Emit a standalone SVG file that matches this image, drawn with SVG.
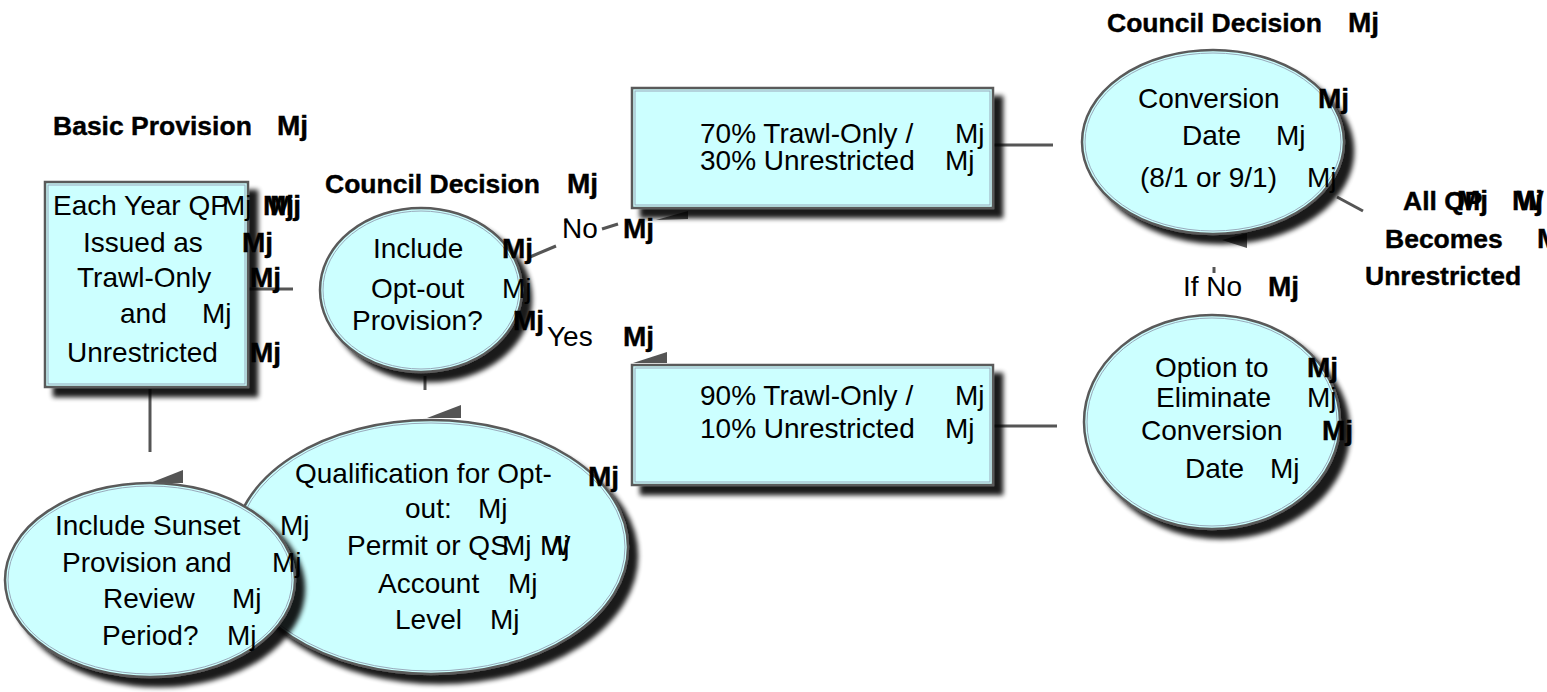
<svg xmlns="http://www.w3.org/2000/svg" width="1547" height="692" viewBox="0 0 1547 692">
<defs>
<filter id="sh" x="-15%" y="-15%" width="140%" height="140%">
<feGaussianBlur in="SourceAlpha" stdDeviation="2.5" result="b"/>
<feOffset in="b" dx="9" dy="9" result="o"/>
<feComponentTransfer in="o" result="s"><feFuncA type="linear" slope="0.9"/></feComponentTransfer>
<feMerge><feMergeNode in="s"/><feMergeNode in="SourceGraphic"/></feMerge>
</filter>
<style>
.shape{fill:#ccffff;stroke:#5a5a5a;stroke-width:2.5;filter:url(#sh)}
.inner{fill:none;stroke:#9ab;stroke-width:1}
text{font-family:"Liberation Sans",Arial,Helvetica,sans-serif;fill:#000}
.t{font-size:28px}
.b{font-size:26.5px;font-weight:bold;stroke:#000;stroke-width:0.4}
.bm{font-size:28px;font-weight:bold;stroke:#000;stroke-width:0.4}
.ln{stroke:#555;stroke-width:3;fill:none}
.ah{fill:#555}
</style>
</defs>
<rect width="1547" height="692" fill="#fff"/>

<g id="connectors">
<line class="ln" x1="248" y1="289" x2="293" y2="289"/>
<line class="ln" x1="150" y1="389" x2="150" y2="452"/>
<polygon class="ah" points="150,483 183,470 183,483"/>
<line class="ln" x1="425" y1="376" x2="425" y2="390"/>
<polygon class="ah" points="427,418 461,405 461,418"/>
<line class="ln" x1="530" y1="257" x2="556" y2="246"/>
<line class="ln" x1="602" y1="229" x2="618" y2="224"/>
<polygon class="ah" points="656,220 688,211 688,219"/>
<line class="ln" x1="566" y1="218" x2="566" y2="223" stroke-width="2"/>
<polygon class="ah" points="633,363 667,352 667,363"/>
<line class="ln" x1="993" y1="145" x2="1053" y2="145"/>
<line class="ln" x1="993" y1="426" x2="1057" y2="426"/>
<line class="ln" x1="1337" y1="197" x2="1363" y2="211"/>
<polygon class="ah" points="1247,248 1247,233 1222,240"/>
<line class="ln" x1="1214" y1="267" x2="1214" y2="273" stroke-width="2"/>
</g>

<g id="title-basic">
<text class="b" x="53" y="135">Basic Provision</text>
<text class="bm" x="277" y="135">Mj</text>
</g>

<g id="node-basic">
<rect class="shape" x="45" y="182" width="203" height="205"/>
<rect class="inner" x="48" y="185" width="197" height="199"/>
<text class="t" x="53" y="215">Each Year QP</text>
<text class="t" x="222" y="215">Mj</text>
<text class="bm" x="263" y="215">Mj</text>
<text class="bm" x="270" y="215">Mj</text>
<text class="t" x="83" y="252">Issued as</text>
<text class="bm" x="242" y="252">Mj</text>
<text class="t" x="77" y="287">Trawl-Only</text>
<text class="bm" x="250" y="287">Mj</text>
<text class="t" x="120" y="323">and</text>
<text class="t" x="202" y="323">Mj</text>
<text class="t" x="67" y="362">Unrestricted</text>
<text class="bm" x="250" y="362">Mj</text>
</g>

<g id="title-council-1">
<text class="b" x="325" y="193">Council Decision</text>
<text class="bm" x="567" y="193">Mj</text>
</g>

<g id="node-optout">
<ellipse class="shape" cx="421" cy="290" rx="101" ry="82"/>
<ellipse class="inner" cx="421" cy="290" rx="98" ry="79"/>
<text class="t" x="373" y="258">Include</text>
<text class="bm" x="502" y="258">Mj</text>
<text class="t" x="371" y="298">Opt-out</text>
<text class="t" x="502" y="298">Mj</text>
<text class="t" x="352" y="330">Provision?</text>
<text class="bm" x="513" y="330">Mj</text>
</g>

<g id="label-no">
<text class="t" x="562" y="238">No</text>
<text class="bm" x="623" y="238">Mj</text>
</g>

<g id="label-yes">
<text class="t" x="547" y="346">Yes</text>
<text class="bm" x="623" y="346">Mj</text>
</g>

<g id="node-70">
<rect class="shape" x="632" y="88" width="361" height="120"/>
<rect class="inner" x="635" y="91" width="355" height="114"/>
<text class="t" x="700" y="143">70% Trawl-Only /</text>
<text class="t" x="955" y="143">Mj</text>
<text class="t" x="700" y="170">30% Unrestricted</text>
<text class="t" x="945" y="170">Mj</text>
</g>

<g id="node-90">
<rect class="shape" x="632" y="365" width="361" height="120"/>
<rect class="inner" x="635" y="368" width="355" height="114"/>
<text class="t" x="700" y="405">90% Trawl-Only /</text>
<text class="t" x="955" y="405">Mj</text>
<text class="t" x="700" y="438">10% Unrestricted</text>
<text class="t" x="945" y="438">Mj</text>
</g>

<g id="title-council-2">
<text class="b" x="1107" y="32">Council Decision</text>
<text class="bm" x="1348" y="32">Mj</text>
</g>

<g id="node-conversion">
<ellipse class="shape" cx="1213" cy="142" rx="131" ry="92"/>
<ellipse class="inner" cx="1213" cy="142" rx="128" ry="89"/>
<text class="t" x="1138" y="108">Conversion</text>
<text class="bm" x="1318" y="108">Mj</text>
<text class="t" x="1182" y="145">Date</text>
<text class="t" x="1276" y="145">Mj</text>
<text class="t" x="1140" y="187">(8/1 or 9/1)</text>
<text class="t" x="1307" y="187">Mj</text>
</g>

<g id="label-ifno">
<text class="t" x="1183" y="296">If No</text>
<text class="bm" x="1268" y="296">Mj</text>
</g>

<g id="label-allqp">
<text class="b" x="1403" y="210">All QP</text>
<text class="bm" x="1457" y="210">Mj</text>
<text class="bm" x="1512" y="210">Mj</text>
<text class="bm" x="1517" y="210">W</text>
<text class="b" x="1385" y="248">Becomes</text>
<text class="bm" x="1537" y="248">Mj</text>
<text class="b" x="1365" y="285">Unrestricted</text>
</g>

<g id="node-eliminate">
<ellipse class="shape" cx="1212" cy="422" rx="128" ry="107"/>
<ellipse class="inner" cx="1212" cy="422" rx="125" ry="104"/>
<text class="t" x="1155" y="377">Option to</text>
<text class="bm" x="1307" y="377">Mj</text>
<text class="t" x="1156" y="407">Eliminate</text>
<text class="t" x="1307" y="407">Mj</text>
<text class="t" x="1141" y="440">Conversion</text>
<text class="bm" x="1322" y="440">Mj</text>
<text class="t" x="1185" y="478">Date</text>
<text class="t" x="1270" y="478">Mj</text>
</g>

<g id="node-qualification">
<ellipse class="shape" cx="431" cy="547" rx="197" ry="127"/>
<ellipse class="inner" cx="431" cy="547" rx="194" ry="124"/>
<text class="t" x="295" y="483">Qualification for Opt-</text>
<text class="bm" x="588" y="486">Mj</text>
<text class="t" x="405" y="518">out:</text>
<text class="t" x="478" y="518">Mj</text>
<text class="t" x="347" y="555">Permit or QS</text>
<text class="t" x="502" y="555">Mj</text>
<text class="t" x="540" y="555">Mj</text>
<text class="t" x="544" y="555">W</text>
<text class="t" x="378" y="593">Account</text>
<text class="t" x="508" y="593">Mj</text>
<text class="t" x="395" y="629">Level</text>
<text class="t" x="490" y="629">Mj</text>
</g>

<g id="node-sunset">
<ellipse class="shape" cx="150" cy="580" rx="145" ry="97"/>
<ellipse class="inner" cx="150" cy="580" rx="142" ry="94"/>
<text class="t" x="55" y="535">Include Sunset</text>
<text class="t" x="280" y="535">Mj</text>
<text class="t" x="62" y="572">Provision and</text>
<text class="t" x="272" y="572">Mj</text>
<text class="t" x="103" y="608">Review</text>
<text class="t" x="232" y="608">Mj</text>
<text class="t" x="102" y="645">Period?</text>
<text class="t" x="227" y="645">Mj</text>
</g>
</svg>
